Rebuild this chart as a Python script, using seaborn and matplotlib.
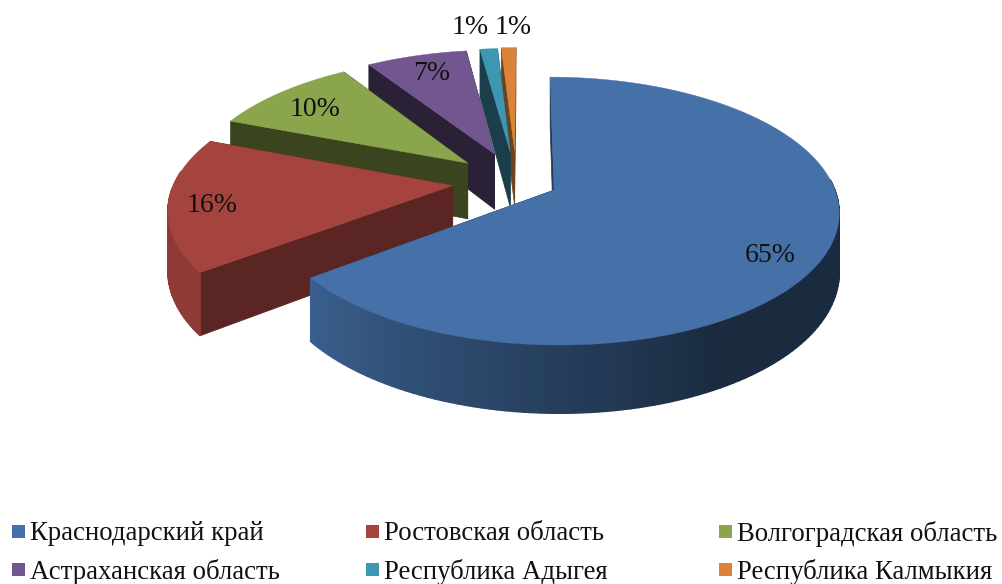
import numpy as np
import matplotlib
matplotlib.use("Agg")
import matplotlib.pyplot as plt
import seaborn as sns

# data
regions = ["Краснодарский край", "Ростовская область", "Волгоградская область",
           "Астраханская область", "Республика Адыгея", "Республика Калмыкия"]
shares = [64.6, 16.3, 10.0, 6.9, 1.2, 1.0]
colors = ["#4571a8", "#a5443f", "#8aa54c", "#71568f", "#3e97b0", "#db8338"]

# how far each slice is pulled out of the pie
explode = [0.15, 0.23, 0.232, 0.236, 0.241, 0.249]
# how dark the flat cut faces are
face_dark = [0.5, 0.55, 0.42, 0.38, 0.42, 0.5]

# fake 3d camera, all in pixels of the picture
cam_x, cam_y = 525, 181.5
rad_x, rad_y = 278, 128
persp = 0.155
depth = 57
origin_u = -0.031

label_pos = [(770, 252), (212, 202), (315, 106), (432, 71), (470, 24), (513, 24)]
legend_x = [12, 366, 719]
legend_y = [531, 569]

sns.set_theme(style="white")
plt.rcParams["font.family"] = ["Liberation Serif", "DejaVu Serif"]
palette = sns.color_palette(colors)


def project(u, v, drop=0.0):
    w = 1 + persp * v
    return cam_x + rad_x * u / w, cam_y - rad_y * v / w + drop / w


def darker(col, k):
    return tuple(c * k for c in col)


def wall_shade(ang):
    # ang is clockwise from the top, the wall gets darker towards the right side
    a = np.degrees(ang) % 360
    if a < 150:
        return 0.38
    if a > 234:
        return 0.86
    return 0.38 + (a - 150) / 84 * 0.48


def draw_slice(ax, start, stop, pull, col, face):
    mid = (start + stop) / 2
    cu = origin_u + pull * np.sin(mid)
    cv = pull * np.cos(mid)
    n = max(int(np.degrees(stop - start) * 0.7), 6)
    t = np.linspace(start, stop, n)
    us = cu + np.sin(t)
    vs = cv + np.cos(t)
    px, py = project(us, vs)
    qx, qy = project(us, vs, depth)
    ax0, ay0 = project(cu, cv)
    bx0, by0 = project(cu, cv, depth)

    # cut faces
    dark = darker(col, face)
    for i in (0, -1):
        ax.fill([ax0, px[i], qx[i], bx0], [ay0, py[i], qy[i], by0],
                color=dark, lw=0.5, zorder=1)
    # rim, only the part that faces us, strip by strip for the gradient
    for i in range(n - 1):
        if np.cos(t[i]) > 0.1:
            continue
        ax.fill([px[i], px[i + 1], qx[i + 1], qx[i]],
                [py[i], py[i + 1], qy[i + 1], qy[i]],
                color=darker(col, wall_shade(t[i])), lw=1.0, zorder=1)
    ax.fill(np.r_[ax0, px], np.r_[ay0, py], color=col, lw=0.3, zorder=1)


def main():
    fig = plt.figure(figsize=(10.03, 5.84), dpi=100)
    ax = fig.add_axes([0, 0, 1, 1])
    ax.set_xlim(0, 1003)
    ax.set_ylim(584, 0)
    ax.axis("off")

    edges = np.r_[0, np.cumsum(shares)] / sum(shares) * 2 * np.pi
    # back slices first
    for i in range(len(shares) - 1, -1, -1):
        draw_slice(ax, edges[i], edges[i + 1], explode[i], palette[i], face_dark[i])

    for share, (x, y) in zip(shares, label_pos):
        ax.text(x, y, "%.0f%%" % share, fontsize=20, color="#111111",
                ha="center", va="center_baseline", zorder=5)

    # legend, 3 columns
    for i, name in enumerate(regions):
        x = legend_x[i % 3]
        y = legend_y[i // 3]
        ax.add_patch(plt.Rectangle((x, y - 6.5), 13, 13, color=palette[i], lw=0))
        ax.text(x + 18, y, name, fontsize=19.3, color="#111111", ha="left",
                va="center_baseline")

    fig.savefig("out.png", dpi=100)


if __name__ == "__main__":
    main()
